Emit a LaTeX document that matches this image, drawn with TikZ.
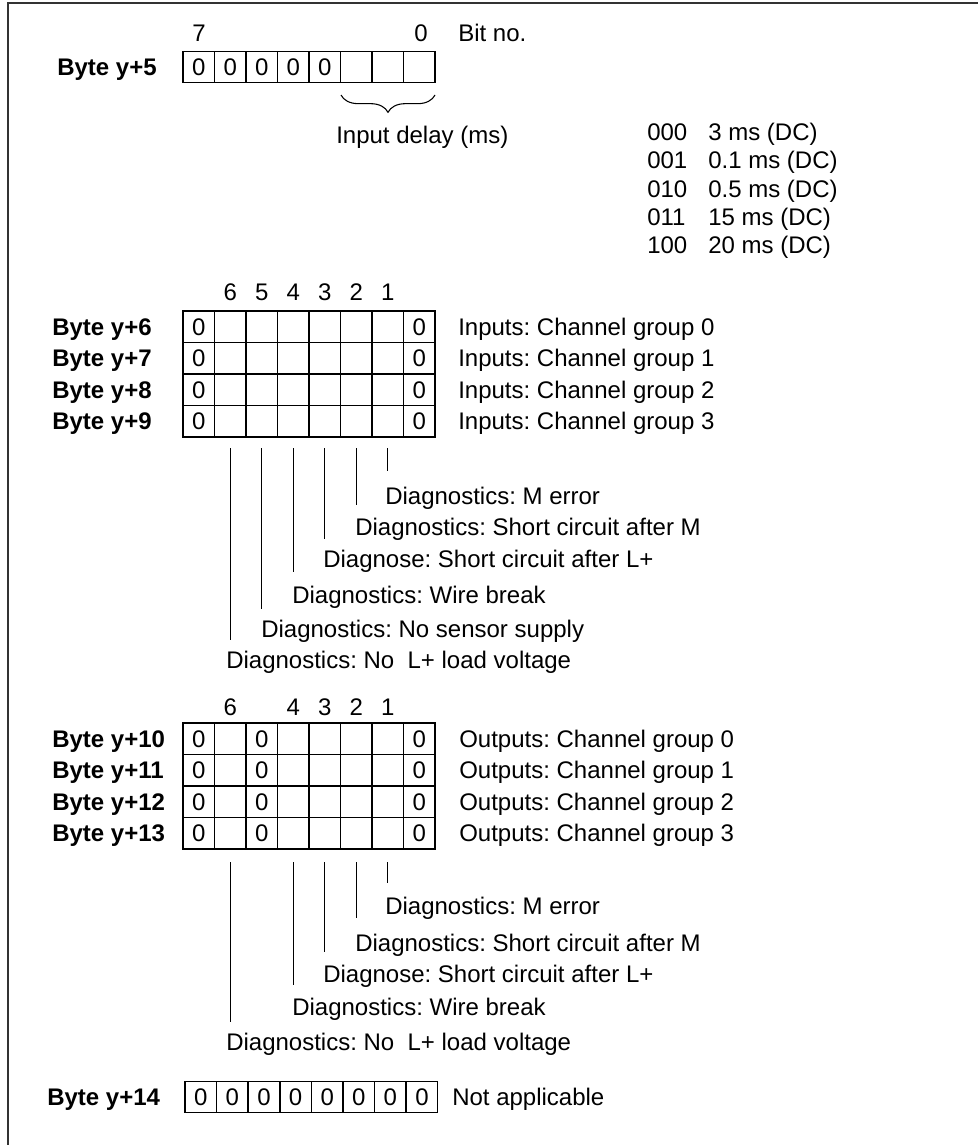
\documentclass[tikz,border=0pt]{standalone}
\usepackage{fontspec}
\setmainfont{Liberation Sans}
\usetikzlibrary{decorations.pathreplacing}
\begin{document}
\frenchspacing
\begin{tikzpicture}[x=0.75pt,y=-0.75pt,
  txt/.style={font=\fontsize{18}{21.6}\selectfont, inner sep=0pt, text height=12.9pt, text depth=0pt, anchor=west},
  ctxt/.style={txt, anchor=center},
  btxt/.style={txt, font=\fontsize{18}{21.6}\selectfont\bfseries},
  cell/.style={draw, line width=1pt, minimum width=23.625pt, minimum height=23.625pt, inner sep=0pt,
    font=\fontsize{18}{21.6}\selectfont, text height=12.9pt, text depth=0pt},
  lead/.style={line width=0.75pt},
  frame/.style={line width=1pt, draw=black!80}]
\useasboundingbox (0,0) rectangle (978,1145);

% frame (top and left edges)
\coordinate (ftl) at (8,3);
\coordinate (ftr) at (978,3);
\coordinate (fbl) at (8,1145);
\draw[frame] (fbl) -- (ftl) -- (ftr);

% ---------- Byte y+5 ----------
\node[btxt] (l5) at (57,67) {Byte y+5};
\foreach \k in {1,...,8}
  \node[cell] (b5-\k) at ({183+31.5*(\k-0.5)},67) {\ifnum\k<6 0\fi};
\node[ctxt] (n7) at (199,33) {7};
\node[ctxt] (n0) at (421,33) {0};
\node[txt] (bitno) at (458,33) {Bit no.};
\coordinate (brA) at (341,95);
\coordinate (brB) at (435,95);
\draw[line width=0.8pt, decorate, decoration={brace, mirror, amplitude=13pt, aspect=0.5}] (brA) -- (brB);
\node[txt] (idl) at (336,135) {Input delay (ms)};
\foreach \c/\d [count=\i from 0] in {000/3 ms (DC), 001/0.1 ms (DC), 010/0.5 ms (DC), 011/15 ms (DC), 100/20 ms (DC)} {
  \node[txt] (code\i) at (647,{132+28.3*\i}) {\c};
  \node[txt] (desc\i) at (708,{132+28.3*\i}) {\d};
}

% ---------- Inputs y+6 .. y+9 ----------
\foreach \n/\k in {6/2,5/3,4/4,3/5,2/6,1/7}
  \node[ctxt] (in\n) at ({183+31.5*(\k-0.5)},292) {\n};
\foreach \r [count=\i from 0] in {6,...,9} {
  \node[btxt] (l\r) at (52,{311+31.5*\i+15.75}) {Byte y+\r};
  \foreach \k in {1,...,8}
    \node[cell] (b\r-\k) at ({183+31.5*(\k-0.5)},{311+31.5*\i+15.75}) {\ifnum\k=1 0\fi\ifnum\k=8 0\fi};
  \node[txt] (g\r) at (458,{311+31.5*\i+15.75}) {Inputs: Channel group \i};
}
\foreach \k/\b in {2/640,3/609,4/572,5/539,6/505,7/471} {
  \coordinate (it\k) at ({183+31.5*(\k-0.5)},448);
  \coordinate (ib\k) at ({183+31.5*(\k-0.5)},\b);
  \draw[lead] (it\k) -- (ib\k);
}
\node[txt] (id1) at (385,496) {Diagnostics: M error};
\node[txt] (id2) at (355,527) {Diagnostics: Short circuit after M};
\node[txt] (id3) at (323,559) {Diagnose: Short circuit after L+};
\node[txt] (id4) at (292,595) {Diagnostics: Wire break};
\node[txt] (id5) at (261,629) {Diagnostics: No sensor supply};
\node[txt] (id6) at (226,660) {Diagnostics: No\ \ L+ load voltage};

% ---------- Outputs y+10 .. y+13 ----------
\foreach \n/\k in {6/2,4/4,3/5,2/6,1/7}
  \node[ctxt] (on\n) at ({183+31.5*(\k-0.5)},707) {\n};
\foreach \r [count=\i from 0] in {10,...,13} {
  \node[btxt] (l\r) at (52,{723+31.5*\i+15.75}) {Byte y+\r};
  \foreach \k in {1,...,8}
    \node[cell] (b\r-\k) at ({183+31.5*(\k-0.5)},{723+31.5*\i+15.75}) {\ifnum\k=1 0\fi\ifnum\k=3 0\fi\ifnum\k=8 0\fi};
  \node[txt] (g\r) at (459,{723+31.5*\i+15.75}) {Outputs: Channel group \i};
}
\foreach \k/\b in {2/1022,4/985,5/952,6/918,7/883} {
  \coordinate (ot\k) at ({183+31.5*(\k-0.5)},862);
  \coordinate (ob\k) at ({183+31.5*(\k-0.5)},\b);
  \draw[lead] (ot\k) -- (ob\k);
}
\node[txt] (od1) at (385,906) {Diagnostics: M error};
\node[txt] (od2) at (355,943) {Diagnostics: Short circuit after M};
\node[txt] (od3) at (323,974) {Diagnose: Short circuit after L+};
\node[txt] (od4) at (292,1007) {Diagnostics: Wire break};
\node[txt] (od6) at (226,1042) {Diagnostics: No\ \ L+ load voltage};

% ---------- Byte y+14 ----------
\node[btxt] (l14) at (47,1097) {Byte y+14};
\foreach \k in {1,...,8}
  \node[cell] (b14-\k) at ({185+31.6*(\k-0.5)},1097) {0};
\node[txt] (na) at (452,1097) {Not applicable};
\end{tikzpicture}
\end{document}
